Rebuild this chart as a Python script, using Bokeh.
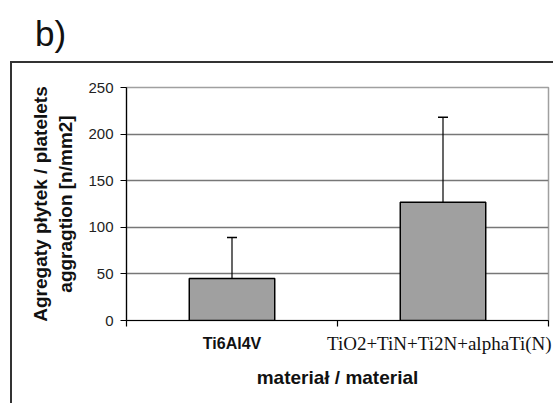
from bokeh.plotting import figure
from bokeh.models import (Range1d, FixedTicker, ColumnDataSource, Whisker, TeeHead,
                          LinearAxis, Div)
from bokeh.layouts import column
from bokeh.embed import file_html
from bokeh.resources import INLINE

# ---- data ----
categories = ["Ti6Al4V", "TiO2+TiN+Ti2N+alphaTi(N)"]
values = [45, 127]
errors = [44, 91]
y_ticks = [0, 50, 100, 150, 200, 250]
y_title = "Agregaty płytek / platelets\naggragtion [n/mm2]"
x_title = "materiał / material"
panel_tag = "b)"

xs = [i + 0.5 for i in range(len(categories))]
ups = [v + e for v, e in zip(values, errors)]

p = figure(width=543, height=342, output_backend="svg", toolbar_location=None,
           x_range=Range1d(0, len(categories)), y_range=Range1d(0, 250),
           min_border_left=114, min_border_right=7, min_border_top=24,
           min_border_bottom=85, margin=(0, 0, 0, 10),
           styles={"border-left": "2px solid #333333", "border-top": "2px solid #333333"})
p.background_fill_color = "white"
p.border_fill_color = "white"
p.outline_line_color = "#a0a0a0"
p.outline_line_width = 1.5

src = ColumnDataSource(dict(x=xs, top=values, up=ups, name=categories))
p.vbar(x="x", top="top", width=0.405, source=src, fill_color="#a0a0a0",
       line_color="black", line_width=1.5)

w = Whisker(base="x", lower="top", upper="up", source=src, line_color="black",
            line_width=1.2, upper_head=TeeHead(size=10, line_color="black", line_width=1.5),
            lower_head=None)
p.add_layout(w)

# y axis
p.yaxis.ticker = FixedTicker(ticks=y_ticks)
p.yaxis.major_tick_out = 6
p.yaxis.major_tick_in = 0
p.yaxis.minor_tick_out = 0
p.yaxis.minor_tick_in = 0
p.yaxis.axis_line_color = "black"
p.yaxis.axis_line_width = 1.2
p.yaxis.major_tick_line_color = "black"
p.yaxis.major_label_text_font = "Liberation Sans"
p.yaxis.major_label_text_font_size = "15px"
p.yaxis.major_label_text_color = "#222222"
p.yaxis.major_label_standoff = 7
p.yaxis.axis_label = y_title
p.yaxis.axis_label_text_font = "Liberation Sans"
p.yaxis.axis_label_text_font_style = "bold"
p.yaxis.axis_label_text_font_size = "19px"
p.yaxis.axis_label_text_color = "#111111"
p.yaxis.axis_label_standoff = 9

# x axis 1: tick marks at slot boundaries + first category label (bold sans)
ax1 = p.xaxis[0]
ax1.ticker = FixedTicker(ticks=[xs[0]], minor_ticks=list(range(len(categories) + 1)))
ax1.major_label_overrides = {xs[0]: categories[0]}
ax1.major_tick_out = 0
ax1.major_tick_in = 0
ax1.minor_tick_out = 6
ax1.minor_tick_in = 0
ax1.minor_tick_line_color = "black"
ax1.minor_tick_line_width = 1.2
ax1.axis_line_color = "black"
ax1.axis_line_width = 1.2
ax1.major_label_standoff = 8
ax1.major_label_text_font = "Liberation Sans"
ax1.major_label_text_font_style = "bold"
ax1.major_label_text_font_size = "16px"
ax1.major_label_text_color = "#111111"

# x axis 2: second category label (serif) and the axis title
ax2 = LinearAxis(ticker=FixedTicker(ticks=[xs[1]], minor_ticks=[]),
                 major_label_overrides={xs[1]: categories[1]})
ax2.axis_line_color = None
ax2.major_tick_line_color = None
ax2.major_tick_out = 0
ax2.major_tick_in = 0
ax2.minor_tick_out = 0
ax2.minor_tick_in = 0
ax2.major_label_standoff = -22
ax2.major_label_text_font = "Liberation Serif"
ax2.major_label_text_font_size = "19px"
ax2.major_label_text_color = "#111111"
ax2.axis_label = x_title
ax2.axis_label_text_font = "Liberation Sans"
ax2.axis_label_text_font_style = "bold"
ax2.axis_label_text_font_size = "19px"
ax2.axis_label_text_color = "#111111"
ax2.axis_label_standoff = 10
p.add_layout(ax2, "below")

p.xgrid.visible = False
p.ygrid.ticker = FixedTicker(ticks=y_ticks[1:-1])
p.ygrid.grid_line_color = "#777777"
p.ygrid.grid_line_width = 1.5

tag = Div(text=panel_tag, width=120, height=61, margin=0,
          styles={"font-family": "Liberation Sans", "font-size": "35px",
                  "line-height": "35px", "color": "#111111",
                  "padding-left": "35px", "padding-top": "16px",
                  "box-sizing": "border-box"})

layout = column(tag, p, spacing=0)
open("out.html", "w").write(file_html(layout, INLINE))
